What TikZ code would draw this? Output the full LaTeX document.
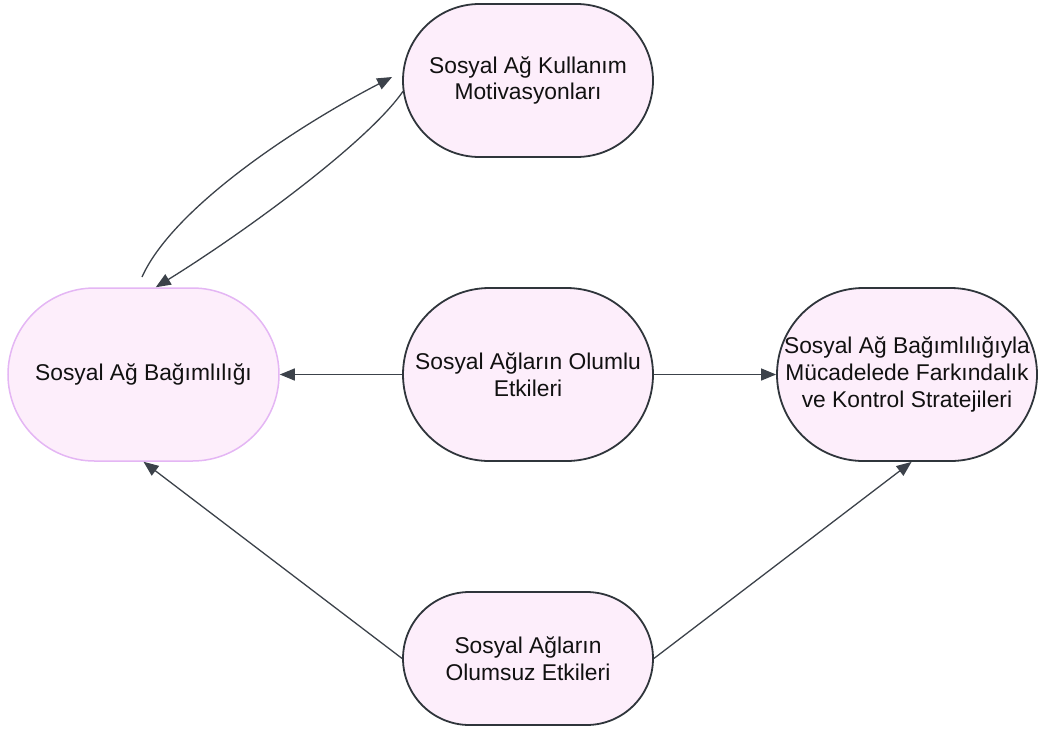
\documentclass[tikz,border=0pt]{standalone}
\usepackage{fontspec}
\setmainfont{Liberation Sans}
\usetikzlibrary{shapes.misc,arrows.meta}

\definecolor{boxfill}{HTML}{FDEEFB}
\definecolor{boxline}{HTML}{2F353B}
\definecolor{lavline}{HTML}{E4B6F4}
\definecolor{linkcol}{HTML}{3C424A}
\definecolor{txtcol}{HTML}{111111}

\tikzset{
  box/.style={rounded rectangle, draw=boxline, line width=1.8pt, fill=boxfill,
              inner sep=0pt},
  softbox/.style={box, draw=lavline, line width=1.5pt},
  txt/.style={align=center, text=txtcol, inner sep=0pt,
              font=\fontsize{22.8pt}{26.8pt}\selectfont},
  link/.style={draw=linkcol, line width=1.3pt,
               -{Triangle[length=15pt,width=12pt]}}
}

\begin{document}
\begin{tikzpicture}[x=1pt,y=-1pt]
  \useasboundingbox (0,0) rectangle (1041,729);

  % stadium-shaped boxes
  \node[softbox, minimum width=271pt, minimum height=173pt] (dep) at (143.5,374.5) {};
  \node[box, minimum width=250pt, minimum height=153pt] (mot) at (528,80.5) {};
  \node[box, minimum width=250pt, minimum height=173pt] (pos) at (528,374.5) {};
  \node[box, minimum width=260pt, minimum height=173pt] (str) at (907,374.5) {};
  \node[box, minimum width=250pt, minimum height=133pt] (neg) at (528,658.5) {};

  % box texts
  \node[txt] (depT) at (dep.center) {Sosyal Ağ Bağımlılığı};
  \node[txt] (motT) at (mot.center) {Sosyal Ağ Kullanım\\Motivasyonları};
  \node[txt] (posT) at (pos.center) {Sosyal Ağların Olumlu\\Etkileri};
  \node[txt] (strT) at (str.center) {Sosyal Ağ Bağımlılığıyla\\Mücadelede Farkındalık\\ve Kontrol Stratejileri};
  \node[txt] (negT) at (neg.center) {Sosyal Ağların\\Olumsuz Etkileri};

  % connectors
  \draw[link] (pos.west) -- (dep.east);
  \draw[link] (pos.east) -- (str.west);
  \draw[link] (neg.west) -- (dep.south);
  \draw[link] (neg.east) -- (str.-87);

  % loop between addiction and motivations
  \coordinate (loopstart) at (142,277);
  \draw[link] (loopstart) .. controls (172,210) and (290,130) .. ([shift={(-10,-3.5)}]mot.west);
  \draw[link] (mot.185) .. controls (368,142) and (245,232) .. (dep.82);
\end{tikzpicture}
\end{document}
